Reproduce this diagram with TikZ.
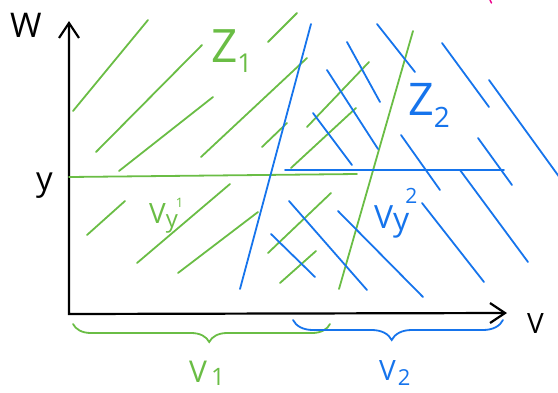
\documentclass[tikz,border=0pt]{standalone}
\usepackage{fontspec}
\setmainfont{Open Sans}
\usetikzlibrary{arrows.meta,decorations.pathreplacing}
\definecolor{penGreen}{RGB}{106,189,69}
\definecolor{penBlue}{RGB}{22,116,236}
\newcommand{\fs}[1]{\fontsize{#1}{#1}\selectfont}

\begin{document}
\begin{tikzpicture}[
    x=1pt, y=-1pt,
    grn/.style={draw=penGreen, line width=1.8pt, line cap=round},
    blu/.style={draw=penBlue, line width=1.8pt, line cap=round},
    axis/.style={draw=black, line width=2.2pt, {Straight Barb[length=15pt,width=20pt]}-{Straight Barb[length=15pt,width=20pt]}},
    lbl/.style={inner sep=0pt, anchor=base west}
]
\path[use as bounding box] (0,0) rectangle (558,392);
\coordinate (O) at (69,314);
\coordinate (Wtip) at (69,21);
\coordinate (Vtip) at (507,313);
\draw[axis] (Wtip) -- (O) -- (Vtip);
% green hatching (Z1)
\draw[grn] (73,111) -- (148,20);
\draw[grn] (96,152) -- (202,45);
\draw[grn] (119,171) -- (213,97);
\draw[grn] (201,157) -- (307,58);
\draw[grn] (268,42) -- (297,13);
\draw[grn] (262,147) -- (287,123);
\draw[grn] (307,127) -- (369,62);
\draw[grn] (291,168) -- (356,108);
\draw[grn] (87,235) -- (125,201);
\draw[grn] (137,263) -- (230,184);
\draw[grn] (178,273) -- (258,212);
\draw[grn] (268,253) -- (331,193);
\draw[grn] (280,283) -- (316,251);
\draw[grn] (69,177) -- (357,174);
\draw[grn] (339,289) -- (413,31);
% blue hatching (Z2)
\draw[blu] (347,42) -- (380,102);
\draw[blu] (377,24) -- (415,72);
\draw[blu] (327,70) -- (378,149);
\draw[blu] (313,113) -- (352,165);
\draw[blu] (442,43) -- (489,107);
\draw[blu] (489,80) -- (560,178);
\draw[blu] (401,135) -- (440,190);
\draw[blu] (478,138) -- (512,185);
\draw[blu] (460,170) -- (528,262);
\draw[blu] (422,203) -- (484,282);
\draw[blu] (338,211) -- (423,297);
\draw[blu] (289,201) -- (367,290);
\draw[blu] (271,234) -- (315,277);
\draw[blu] (285,170) -- (504,170);
\draw[blu] (240,289) -- (311,24);
\draw[draw=magenta, line width=1.5pt, line cap=round] (490,0) -- (491.5,3);
% braces
\coordinate (b1l) at (73,324);
\coordinate (b1r) at (330,324);
\coordinate (b2l) at (293,320);
\coordinate (b2r) at (503,320);
\draw[grn, decorate, decoration={brace, mirror, amplitude=18pt, aspect=0.53}] (b1l) -- (b1r);
\draw[blu, decorate, decoration={brace, mirror, amplitude=20pt, aspect=0.47}] (b2l) -- (b2r);
% labels
\node[lbl] (wlab) at (10,37) {\fs{34}W};
\node[lbl] (ylab) at (36,190) {\fs{33}y};
\node[lbl] (vlab) at (527,333) {\fs{28}V};
\node[lbl, text=penGreen] (z1) at (211,62) {\fs{46}Z\raisebox{-10pt}{\fs{26}1}};
\node[lbl, text=penBlue] (z2) at (408,115) {\fs{45}Z\raisebox{-12pt}{\fs{28}2}};
\node[lbl, text=penGreen] (vy1) at (149,223) {\fs{28}V\raisebox{-4pt}{\fs{24}y}\kern-2pt\raisebox{16pt}{\fs{13}1}};
\node[lbl, text=penBlue] (vy2) at (374,228) {\fs{32}V\raisebox{-2pt}{\fs{32}y}\kern-4pt\raisebox{25pt}{\fs{21}2}};
\node[lbl, text=penGreen] (v1) at (189,382) {\fs{30}V\kern4pt\raisebox{-3pt}{\fs{24}1}};
\node[lbl, text=penBlue] (v2) at (379,380) {\fs{28}V\kern2pt\raisebox{-5pt}{\fs{22}2}};
\end{tikzpicture}
\end{document}
